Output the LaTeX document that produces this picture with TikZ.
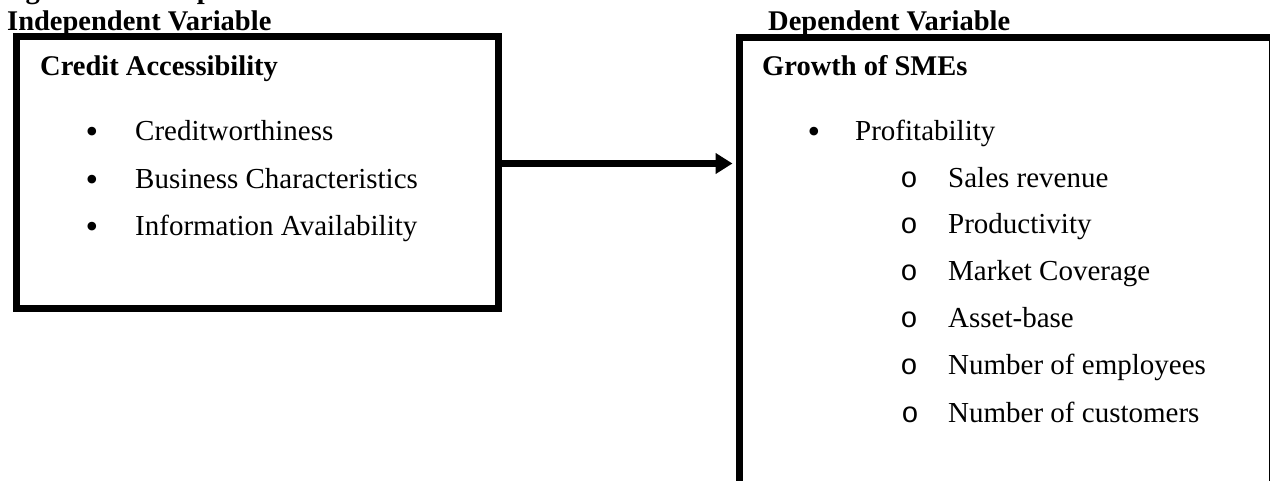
\documentclass[tikz,border=0pt]{standalone}
\usepackage{fontspec}
\setmainfont{Liberation Serif}
\setmonofont{Liberation Mono}
\usetikzlibrary{arrows.meta}
\tikzset{
  framebox/.style={draw=black, line width=7pt, inner sep=0pt, fill=none},
  head/.style={anchor=base west, inner sep=0pt, font=\fontsize{28.5}{33}\selectfont\bfseries},
  item/.style={anchor=base west, inner sep=0pt, font=\fontsize{29}{34}\selectfont},
  dot/.style={anchor=base, inner sep=0pt, font=\fontsize{36}{40}\selectfont},
  ring/.style={anchor=base, inner sep=0pt, font=\fontsize{29}{34}\selectfont\ttfamily},
  link/.style={line width=7pt, -{Triangle[length=17pt, width=20pt]}}
}
\begin{document}
\begin{tikzpicture}[x=1pt,y=-1pt]
\useasboundingbox (0,0) rectangle (1270,480);
% partially visible caption
\node[head] (cap) at (0,-2) {Figure 1: Conceptual Framework};
% headings
\node[head] (ivh) at (7,30) {Independent Variable};
\node[head] (dvh) at (768,30) {Dependent Variable};
% boxes
\node[framebox, minimum width=482pt, minimum height=272pt] (iv) at (257.5,172.5) {};
\node[framebox, minimum width=533pt, minimum height=453pt] (dv) at (1006,263.5) {};
% arrow
\coordinate (ay) at (0,163.5);
\draw[link] (iv.east |- ay) -- ([xshift=-3.5pt]dv.west |- ay);
% left box contents
\node[head] (ivt) at (40,75) {Credit Accessibility};
\node[dot] (b1) at (92,143) {•};
\node[item] (t1) at (135,140) {Creditworthiness};
\node[dot] (b2) at (92,191) {•};
\node[item] (t2) at (135,188) {Business Characteristics};
\node[dot] (b3) at (92,238) {•};
\node[item] (t3) at (135,235) {Information Availability};
% right box contents
\node[head] (dvt) at (762,75) {Growth of SMEs};
\node[dot] (p0) at (814,143) {•};
\node[item] (q0) at (855,140) {Profitability};
\node[ring] (p1) at (909,187) {o};
\node[item] (q1) at (948,187) {Sales revenue};
\node[ring] (p2) at (909,233) {o};
\node[item] (q2) at (948,233) {Productivity};
\node[ring] (p3) at (909,280) {o};
\node[item] (q3) at (948,280) {Market Coverage};
\node[ring] (p4) at (909,327) {o};
\node[item] (q4) at (948,327) {Asset-base};
\node[ring] (p5) at (909,374) {o};
\node[item] (q5) at (948,374) {Number of employees};
\node[ring] (p6) at (910,422) {o};
\node[item] (q6) at (948,422) {Number of customers};
\end{tikzpicture}
\end{document}
